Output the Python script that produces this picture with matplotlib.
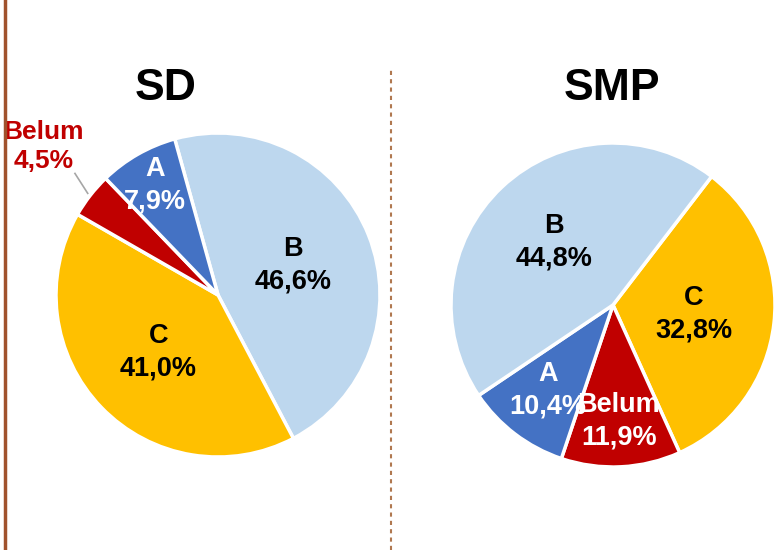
import numpy as np
import matplotlib.pyplot as plt
from matplotlib.lines import Line2D

plt.rcParams['font.family'] = ['Liberation Sans', 'DejaVu Sans']

# data
sd_labels = ['B', 'C', 'Belum', 'A']
sd_values = [46.6, 41.0, 4.5, 7.9]
smp_labels = ['C', 'Belum', 'A', 'B']
smp_values = [32.8, 11.9, 10.4, 44.8]

colors = {'A': '#4472C4', 'B': '#BDD7EE', 'C': '#FFC000', 'Belum': '#C00000'}
text_col = {'A': 'white', 'B': 'black', 'C': 'black', 'Belum': 'white'}

W, H = 782, 550
fig = plt.figure(figsize=(W / 100, H / 100), dpi=100)
ax = fig.add_axes([0, 0, 1, 1])


def fmt(v):
    return f'{v:.1f}%'.replace('.', ',')


def draw_pie(labels, values, center, radius, start, fracs, title, title_x):
    wedges, _ = ax.pie(values, colors=[colors[l] for l in labels], startangle=start,
                       counterclock=False, center=center, radius=radius,
                       wedgeprops=dict(edgecolor='white', linewidth=2.5), frame=True)
    for w, lab, v in zip(wedges, labels, values):
        mid = np.deg2rad((w.theta1 + w.theta2) / 2)
        f = fracs[lab]
        x = center[0] + radius * f * np.cos(mid)
        y = center[1] + radius * f * np.sin(mid)
        if f > 1:
            # outside label with leader line
            ax.text(x + 8, y + 6, f'{lab}\n{fmt(v)}', ha='center', va='center', fontsize=19,
                    fontweight='bold', color='#C00000', linespacing=1.25)
            x0 = center[0] + radius * 1.02 * np.cos(mid)
            y0 = center[1] + radius * 1.02 * np.sin(mid)
            x1 = center[0] + radius * 1.12 * np.cos(mid)
            y1 = center[1] + radius * 1.22 * np.sin(mid)
            ax.plot([x0, x1], [y0, y1], color='#A6A6A6', lw=1.2)
        else:
            ax.text(x, y, f'{lab}\n{fmt(v)}', ha='center', va='center', fontsize=19.5,
                    fontweight='bold', color=text_col[lab], linespacing=1.35)
    ax.text(title_x, H - 88, title, ha='center', va='center', fontsize=32,
            fontweight='bold', color='black')


draw_pie(sd_labels, sd_values, (218, H - 295), 162, 105.5,
         {'B': 0.5, 'C': 0.51, 'Belum': 1.43, 'A': 0.78}, 'SD', 166)
draw_pie(smp_labels, smp_values, (613, H - 305), 162, 52.5,
         {'C': 0.5, 'Belum': 0.72, 'A': 0.66, 'B': 0.53}, 'SMP', 612)

ax.set_xlim(0, W)
ax.set_ylim(0, H)
ax.set_aspect('equal')
ax.axis('off')

# frame lines
fig.add_artist(Line2D([5 / W, 5 / W], [0, 1], color='#A0522D', lw=2.5))
fig.add_artist(Line2D([391 / W, 391 / W], [0, (H - 70) / H], color='#B07850',
                      lw=1.5, linestyle=(0, (2, 2))))

fig.savefig('out.png', dpi=100)
